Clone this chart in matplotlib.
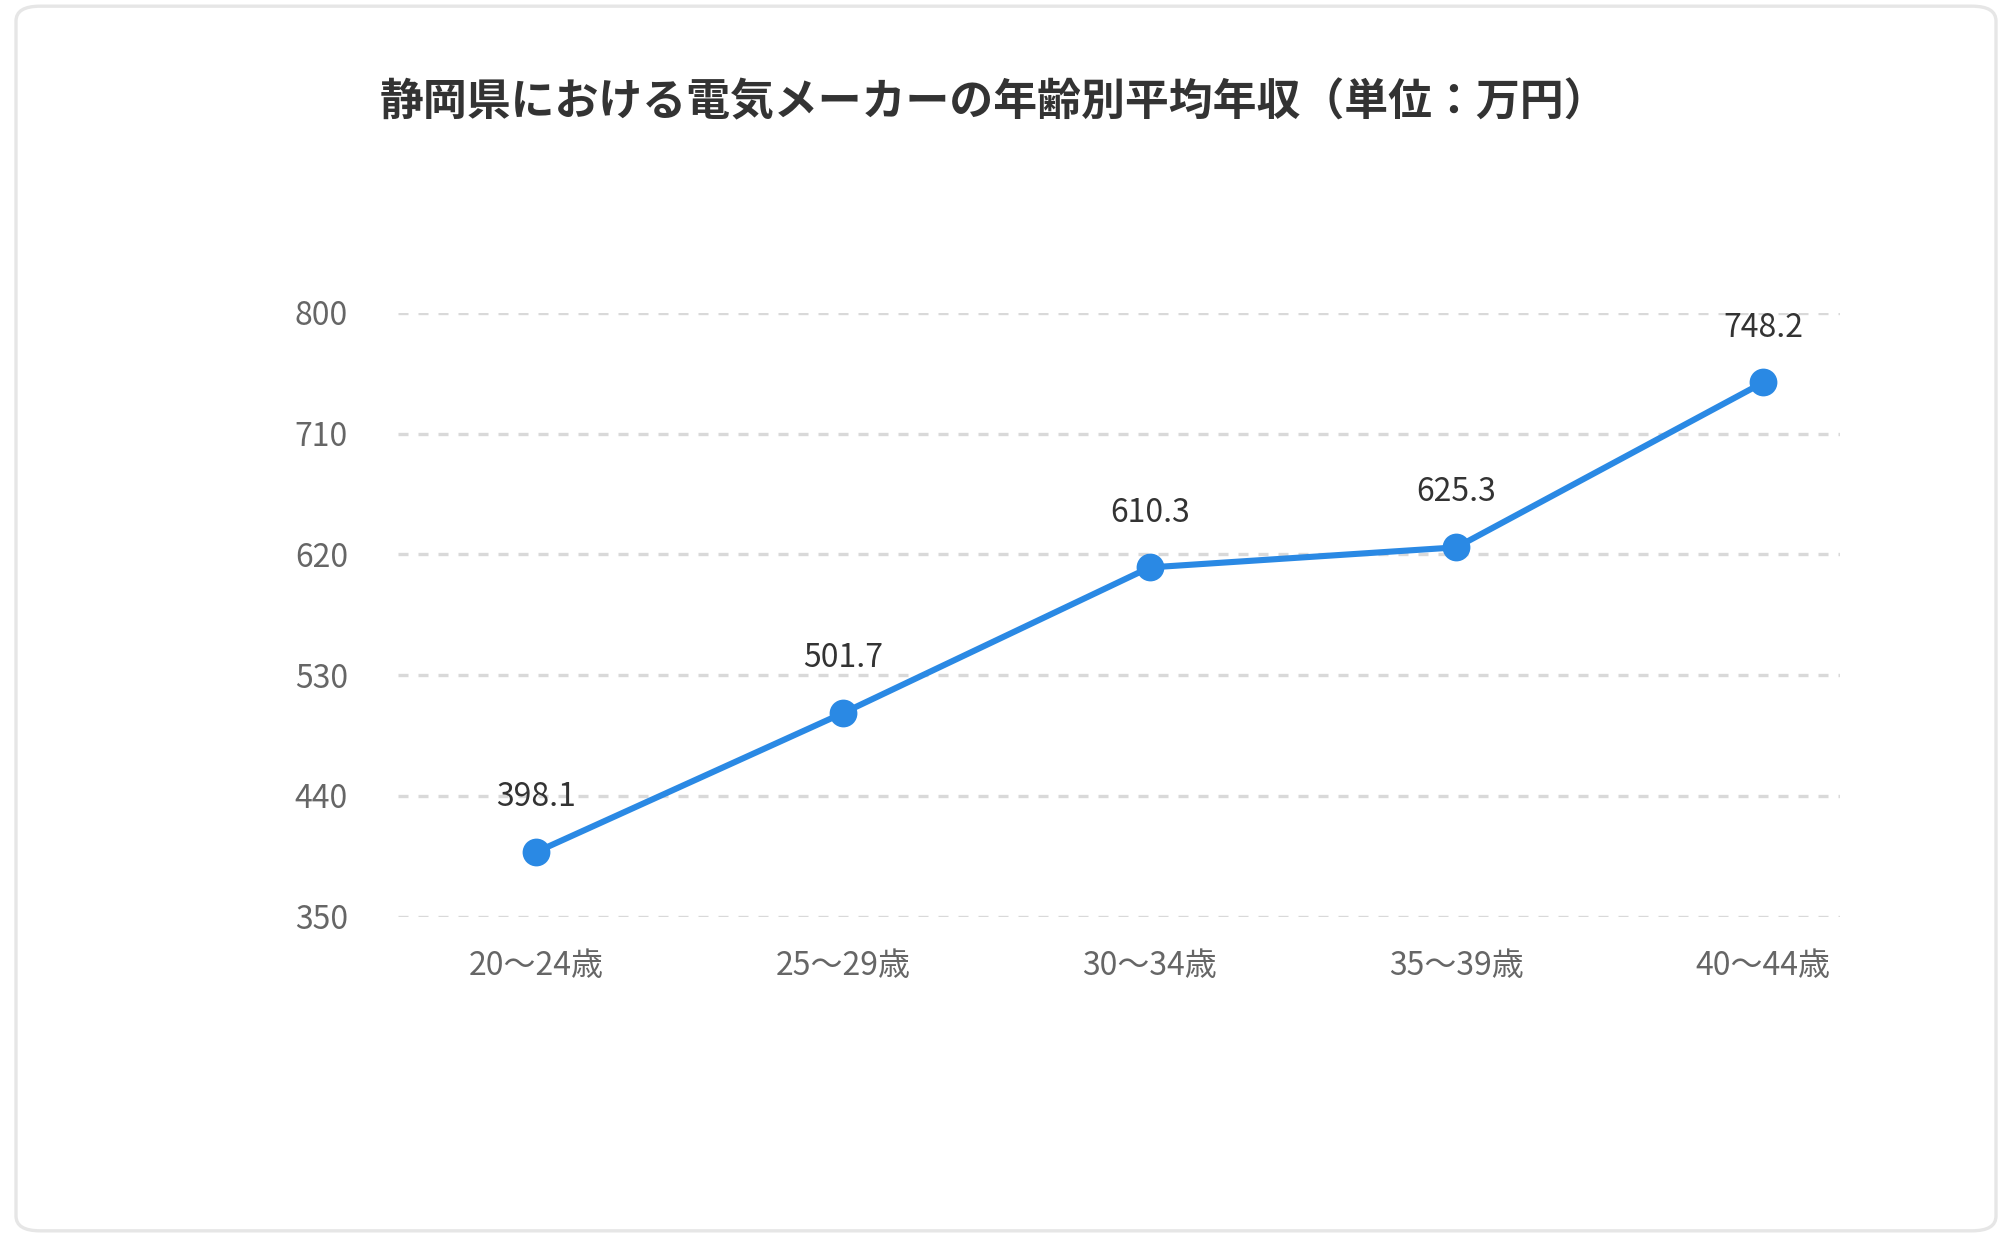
import matplotlib
matplotlib.use("Agg")
import matplotlib.pyplot as plt
from matplotlib.patches import FancyBboxPatch

categories = ["20〜24歳", "25〜29歳", "30〜34歳", "35〜39歳", "40〜44歳"]
values = [398.1, 501.7, 610.3, 625.3, 748.2]
yticks = [350, 440, 530, 620, 710, 800]
title = "静岡県における電気メーカーの年齢別平均年収（単位：万円）"

plt.rcParams["font.family"] = ["Noto Sans CJK JP", "DejaVu Sans"]
fig = plt.figure(figsize=(10, 6.185), dpi=200)
fig.patch.set_facecolor("white")
card = FancyBboxPatch((0.008, 0.005), 0.99, 0.99, boxstyle="round,pad=0,rounding_size=0.012",
                      transform=fig.transFigure, facecolor="white", edgecolor="#e6e6e6", lw=1.2,
                      zorder=-10)
fig.patches.append(card)
fig.text(0.497, 0.917, title, ha="center", va="center", fontsize=15.8, color="#333333", fontweight="bold")

ax = fig.add_axes([0.199, 0.259, 0.721, 0.488])
ax.set_zorder(5)
ax.patch.set_alpha(0)
x = list(range(len(categories)))
ax.plot(x, values, color="#2a89e4", lw=2.2, marker="o", ms=9, zorder=3, clip_on=False)
for xi, v in zip(x, values):
    ax.annotate(f"{v}", (xi, v), xytext=(0, 14), textcoords="offset points",
                ha="center", va="bottom", fontsize=11.5, color="#333333")
ax.set_xlim(-0.45, 4.25)
ax.set_ylim(350, 800)
ax.set_yticks(yticks)
ax.set_xticks(x)
ax.set_xticklabels(categories)
ax.grid(axis="y", color="#d9d9d9", ls=(0, (3, 3)), lw=1.2)
for s in ax.spines.values():
    s.set_visible(False)
ax.tick_params(length=0, labelsize=11.5, labelcolor="#666666")
ax.tick_params(axis="y", pad=18)
ax.tick_params(axis="x", pad=12)
fig.savefig("out.png", dpi=200)
